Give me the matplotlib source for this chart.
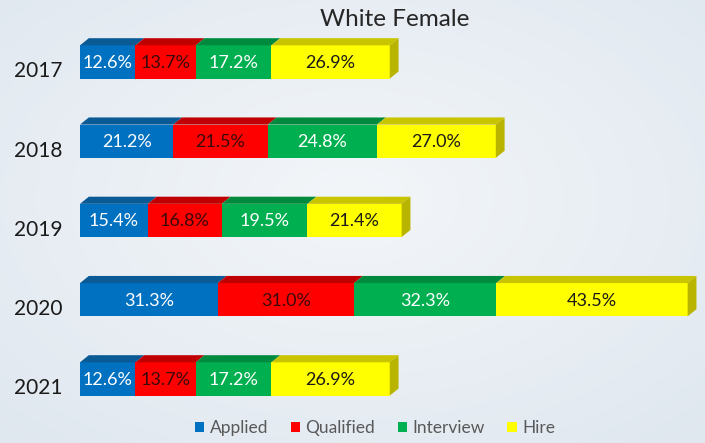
import numpy as np
import matplotlib
matplotlib.use("Agg")
import matplotlib.pyplot as plt
from matplotlib.patches import Polygon, Patch

plt.rcParams['font.family'] = ['Lato', 'DejaVu Sans']

years = ["2017", "2018", "2019", "2020", "2021"]
stages = ["Applied", "Qualified", "Interview", "Hire"]
applied = [12.6, 21.2, 15.4, 31.3, 12.6]
qualified = [13.7, 21.5, 16.8, 31.0, 13.7]
interview = [17.2, 24.8, 19.5, 32.3, 17.2]
hire = [26.9, 27.0, 21.4, 43.5, 26.9]

front = ["#0070c0", "#ff0000", "#00b050", "#ffff00"]
top = ["#0a5a96", "#c00000", "#008a3e", "#c9c400"]
side = "#b8b400"
txt = ["white", "#3a0a0a", "white", "#1a1a1a"]

series = [applied, qualified, interview, hire]

fig = plt.figure(figsize=(7.05, 4.43), dpi=100)

# soft background gradient
bg = fig.add_axes([0, 0, 1, 1])
yy, xx = np.mgrid[0:1:200j, 0:1:300j]
r = np.sqrt((xx - 0.5) ** 2 + (yy - 0.45) ** 2)
bg.imshow(r, cmap=matplotlib.colors.LinearSegmentedColormap.from_list("b", ["#f3f6f9", "#dfe7ef"]),
          aspect="auto", extent=[0, 1, 0, 1], vmin=0, vmax=0.75)
bg.axis("off")

ax = fig.add_axes([80 / 705, 0, 625 / 705, 1])
ax.patch.set_alpha(0)
ax.set_xlim(0, 625 / 4.4)
ax.set_ylim(4.808, -0.782)
ax.axis("off")

h = 0.42
dx = 2.0
dy = 0.09
ypos = np.arange(len(years))

left = np.zeros(len(years))
for k, vals in enumerate(series):
    vals = np.array(vals)
    ax.barh(ypos, vals, left=left, height=h, color=front[k], edgecolor="none", zorder=2)
    for i in range(len(years)):
        l, v, y = left[i], vals[i], ypos[i]
        t = y - h / 2
        ax.add_patch(Polygon([(l, t), (l + v, t), (l + v + dx, t - dy), (l + dx, t - dy)],
                             closed=True, facecolor=top[k], edgecolor="none", zorder=2))
        ax.text(l + v / 2, y + 0.01, f"{v:.1f}%", ha="center", va="center",
                fontsize=13, color=txt[k], zorder=3)
    left = left + vals

for i, y in enumerate(ypos):
    R = left[i]
    t, b = y - h / 2, y + h / 2
    ax.add_patch(Polygon([(R, t), (R, b), (R + dx, b - dy), (R + dx, t - dy)],
                         closed=True, facecolor=side, edgecolor="none", zorder=2))
    ax.text(-4.0, y + 0.12, years[i], ha="right", va="center", fontsize=15,
            color="#1a1a1a", clip_on=False)

fig.text(395 / 705, 1 - 20 / 443, "White Female", ha="center", va="center",
         fontsize=17.5, color="#262626")

handles = [Patch(facecolor=front[k], edgecolor="none") for k in range(4)]
fig.legend(handles, stages, loc="center", bbox_to_anchor=(375 / 705, 1 - 428 / 443),
           ncol=4, frameon=False, fontsize=12.5, labelcolor="#595959",
           handlelength=0.55, handleheight=0.55, handletextpad=0.3, columnspacing=1.3)

fig.savefig("out.png", dpi=100)
